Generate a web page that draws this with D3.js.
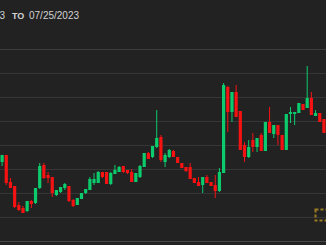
<!DOCTYPE html>
<html>
<head>
<meta charset="utf-8">
<script src="https://cdn.jsdelivr.net/npm/d3@7"></script>
<style>
  html, body { margin: 0; padding: 0; background: #222222; overflow: hidden; }
  svg { display: block; }
</style>
</head>
<body>
<div id="chart"></div>
<script>
// candle values (price units)
const opens  = [79,86,59,55,36,33,30,40,38,53,76,66,64,46,49,53,55,41,36,42,48,51,58,58,69,69,57,67,69,75,71,69,59,64,74,88,84,94,104,79,84,90,84,78,74,74,63,59,56,64,59,56,50,68,154,129,149,130,96,84,101,94,106,90,119,107,116,106,91,127,127,128,137,133,143,125,128,122];
const highs  = [86,86,63,55,39,35,40,41,53,78,78,69,64,51,54,58,55,42,43,48,52,64,68,70,69,69,69,76,75,75,71,72,68,76,88,89,95,131,106,88,92,91,84,78,74,78,63,64,64,66,59,66,73,158,155,149,156,130,99,101,108,103,108,119,134,116,116,106,127,134,129,138,137,175,149,131,128,122];
const lows   = [75,56,53,33,30,28,29,33,37,52,62,58,44,45,48,51,39,34,36,42,47,51,56,58,63,57,56,67,69,68,67,59,59,63,74,82,83,93,79,74,83,84,78,73,69,62,58,55,48,58,55,43,49,68,109,119,124,91,79,83,89,89,90,90,108,103,96,91,91,118,116,128,131,133,126,125,119,108];
const closes = [86,58,53,34,31,28,40,37,53,75,63,63,48,51,54,57,40,35,43,48,52,62,62,69,64,57,68,71,74,69,68,59,68,75,88,82,95,103,81,86,91,84,78,73,70,62,58,55,64,58,55,50,69,156,129,149,124,91,84,94,94,103,90,119,108,116,106,91,127,129,129,138,131,143,126,128,119,108];
const gridTicks = [0,24,48,72,96,120,144,168,192];
const fromDate = '04/25/2023';
const toDate = '07/25/2023';

const width = 326, height = 245;
const plotTop = 49, plotBottom = 241;

const candles = opens.map((o, i) => ({ i: i, o: o, h: highs[i], l: lows[i], c: closes[i] }));

const svg = d3.select('#chart')
    .append('svg')
    .attr('width', width)
    .attr('height', height);

svg.append('rect')
    .attr('width', width)
    .attr('height', height)
    .attr('fill', '#222222');

const x = d3.scaleBand()
    .domain(candles.map(d => d.i))
    .range([0, width]);

const y = d3.scaleLinear()
    .domain([0, 192])
    .range([plotBottom, plotTop]);

// grid
const grid = svg.append('g')
    .call(d3.axisLeft(y).tickValues(gridTicks).tickSize(-width).tickFormat(''));
grid.select('.domain').remove();
grid.selectAll('.tick line')
    .attr('stroke', d => d === 0 ? '#474747' : (d === 192 ? '#3c3c3c' : '#363636'))
    .attr('stroke-width', 1.2);

// header
const header = svg.append('g').attr('font-family', 'Liberation Sans, Arial, sans-serif').attr('fill', '#d2d2d2');
header.append('text')
    .attr('x', 5).attr('y', 19)
    .attr('text-anchor', 'end')
    .attr('font-size', 10)
    .text(fromDate);
header.append('text')
    .attr('x', 12).attr('y', 19)
    .attr('font-size', 9)
    .attr('font-weight', 'bold')
    .text('TO');
header.append('text')
    .attr('x', 29).attr('y', 19)
    .attr('font-size', 10)
    .text(toDate);

// candles
const green = '#0ccb6c', red = '#f51212';
const cg = svg.append('g');
cg.selectAll('.wick')
    .data(candles)
    .enter()
    .append('line')
    .attr('class', 'wick')
    .attr('x1', d => x(d.i) + x.bandwidth() / 2)
    .attr('x2', d => x(d.i) + x.bandwidth() / 2)
    .attr('y1', d => y(d.h))
    .attr('y2', d => y(d.l))
    .attr('stroke', d => d.c >= d.o ? green : red)
    .attr('stroke-width', 1);

cg.selectAll('.body')
    .data(candles)
    .enter()
    .append('rect')
    .attr('class', 'body')
    .attr('x', d => x(d.i) + x.bandwidth() / 2 - 1.6)
    .attr('width', 3.2)
    .attr('y', d => y(Math.max(d.o, d.c)))
    .attr('height', d => Math.max(1, Math.abs(y(d.o) - y(d.c))))
    .attr('fill', d => d.c >= d.o ? green : red);

// small watermark icon, bottom right
svg.append('rect')
    .attr('x', 315.5).attr('y', 209.5)
    .attr('width', 13).attr('height', 11)
    .attr('fill', 'none')
    .attr('stroke', '#9c7a22')
    .attr('stroke-width', 2)
    .attr('stroke-dasharray', '3,2');
</script>
</body>
</html>
